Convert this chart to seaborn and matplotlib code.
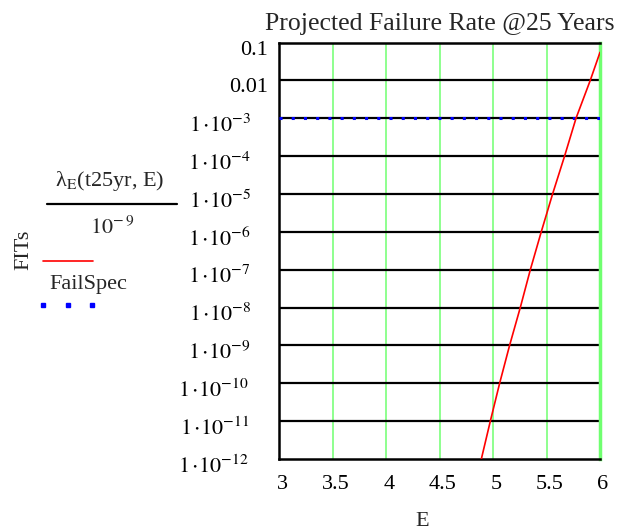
import matplotlib
matplotlib.use("Agg")
import matplotlib.pyplot as plt
import seaborn as sns
import numpy as np
import pandas as pd
from matplotlib.lines import Line2D
from matplotlib.transforms import ScaledTranslation

# ---- data ----
E_vals = [4.891, 4.975, 5.062, 5.155, 5.255, 5.349, 5.451, 5.557, 5.669, 5.776, 5.909, 6.0]
fit_vals = [1e-12, 1e-11, 1e-10, 1e-9, 1e-8, 1e-7, 1e-6, 1e-5, 1e-4, 1e-3, 1e-2, 0.055]
spec_E = [3.0, 6.0]
spec_vals = [1e-3, 1e-3]
x_ticks = [3, 3.5, 4, 4.5, 5, 5.5, 6]
x_tick_labels = ["3", "3.5", "4", "4.5", "5", "5.5", "6"]
y_exps = [-1, -2, -3, -4, -5, -6, -7, -8, -9, -10, -11, -12]
title = "Projected Failure Rate @25 Years"

sns.set_style("white")
plt.rcParams['font.family'] = ['Liberation Serif', 'DejaVu Serif']
plt.rcParams['mathtext.fontset'] = 'stix'

FS = 16
fig = plt.figure(figsize=(6.2, 5.31), dpi=100)
ax = fig.add_axes([279/620, 1-459/531, (600-279)/620, (459-42.5)/531])

df_fail = pd.DataFrame({"E": E_vals, "FIT": fit_vals})
df_spec = pd.DataFrame({"E": spec_E, "FIT": spec_vals})

ax.set_yscale("log")
ax.set_xlim(3, 6)
ax.set_ylim(1e-12, 0.1)

GREEN = "#70ff70"
for xv in x_ticks[1:]:
    ax.axvline(xv, color=GREEN, lw=1.1, zorder=1)
for e in y_exps[1:-1]:
    ax.axhline(10.0**e, color="black", lw=1.6, zorder=1)

sns.lineplot(data=df_spec, x="E", y="FIT", ax=ax, color="#0000ff", lw=2.2,
             zorder=3, linestyle=(0, (1, 3.0)))
sns.lineplot(data=df_fail, x="E", y="FIT", ax=ax, color="#ff0000", lw=1.2,
             zorder=4)

for s in ax.spines.values():
    s.set_color("black")
    s.set_linewidth(1.8)
ax.spines['right'].set_color(GREEN)
ax.spines['right'].set_linewidth(2.5)

ax.set_xticks(x_ticks)
ax.set_xticklabels(x_tick_labels)
ylabels = []
for e in y_exps:
    if e == -1:
        ylabels.append("0.1")
    elif e == -2:
        ylabels.append("0.01")
    else:
        ylabels.append(r"$\mathrm{1\,{\cdot}10}^{-%d}$" % (-e))
ax.set_yticks([10.0**e for e in y_exps])
ax.set_yticklabels(ylabels)
ax.minorticks_off()
ax.tick_params(axis="both", length=0, labelsize=FS, colors="black")
ax.tick_params(axis="y", pad=8)
ax.tick_params(axis="x", pad=11.5)

for lab, e in zip(ax.get_yticklabels(), y_exps):
    dx = 0 if e >= -2 else (-17 if e >= -9 else -19)
    lab.set_transform(lab.get_transform() + ScaledTranslation(dx/100, -5/100, fig.dpi_scale_trans))
for lab in ax.get_xticklabels():
    lab.set_transform(lab.get_transform() + ScaledTranslation(3/100, 0, fig.dpi_scale_trans))

ax.set_xlabel("E", fontsize=FS)
ax.xaxis.set_label_coords((422-279)/321, -(522-459)/416.5)
ax.xaxis.label.set_va("center")
ax.set_ylabel("")
ax.set_title(title, fontsize=18.5, pad=9)

# left-side legend / label block
fig.text(24/620, 1-250/531, "FITs", rotation=90, ha="center", va="center", fontsize=FS)
fig.text(110/620, 1-181/531, "λ$_{\\mathrm{E}}$(t25yr, E)", ha="center",
         va="center", fontsize=FS)
fig.add_artist(Line2D([47/620, 177/620], [1-204/531, 1-204/531], color="black", lw=1.6))
fig.text(112/620, 1-228/531, r"$\mathrm{10}^{-\,9}$", ha="center", va="center", fontsize=FS)
fig.add_artist(Line2D([43/620, 93/620], [1-261/531, 1-261/531], color="#ff0000", lw=1.2))
fig.text(88/620, 1-285/531, "FailSpec", ha="center", va="center", fontsize=FS)
fig.add_artist(Line2D([43/620, 68/620, 92/620], [1-305/531]*3, color="#0000ff",
                      lw=0, marker="s", markersize=2.2))

fig.savefig("out.png", dpi=100)
